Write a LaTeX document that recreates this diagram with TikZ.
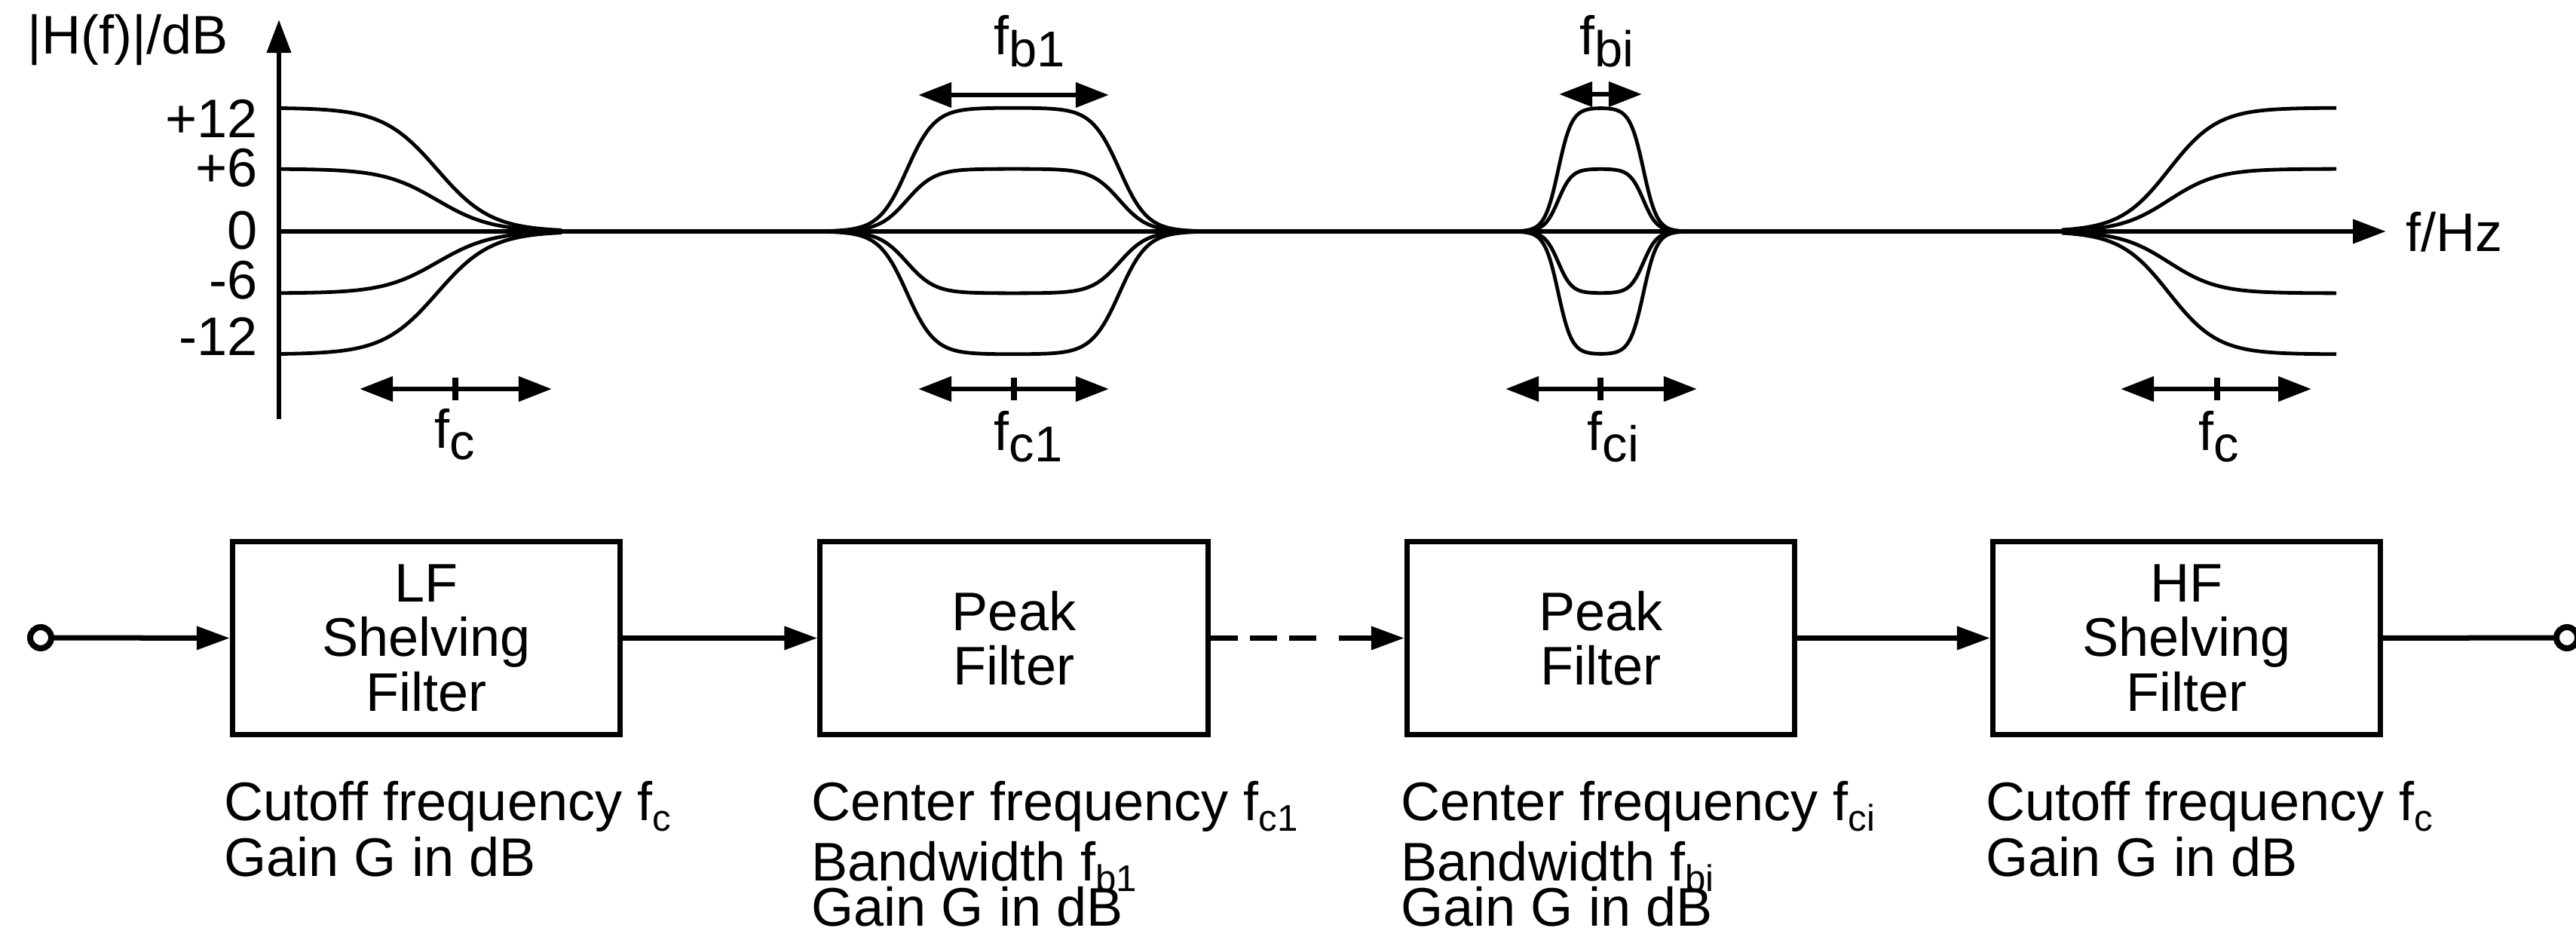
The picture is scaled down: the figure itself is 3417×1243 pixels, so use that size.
\documentclass[tikz,border=0pt]{standalone}
\usepackage{fontspec}
\setmainfont{Liberation Sans}
\usetikzlibrary{arrows.meta}
\newcommand{\tsub}[1]{\raisebox{-4.5pt}{\fontsize{19}{19}\selectfont #1}}
\newcommand{\bsub}[1]{\raisebox{-4pt}{\fontsize{14}{14}\selectfont #1}}
\begin{document}
\begin{tikzpicture}[x=0.01cm, y=-0.01cm,
  lbl/.style={inner sep=0pt, font=\fontsize{20.5}{21}\selectfont},
  curve/.style={line width=0.048cm, line join=round},
  axis/.style={line width=0.068cm, -{Triangle[length=0.44cm,width=0.31cm]}},
  dim/.style={line width=0.068cm, {Triangle[length=0.44cm,width=0.32cm]}-{Triangle[length=0.44cm,width=0.32cm]}},
  tickm/.style={line width=0.075cm},
  box/.style={draw, line width=0.07cm, minimum width=5.14cm, minimum height=2.55cm, inner sep=0pt, align=center, font=\fontsize{20.5}{20.5}\selectfont},
  conn/.style={line width=0.07cm},
  arr/.style={conn, -{Triangle[length=0.44cm,width=0.3cm]}},
  term/.style={circle, draw, line width=0.08cm, minimum size=0.28cm, inner sep=0pt, fill=white},
  declare function={st(\z)=tanh(max(-4,min(4,\z)));}
]
\useasboundingbox (0,0) rectangle (3417,1243);

% axes
\coordinate (o) at (370,307);
\coordinate (ytop) at (370,26);
\coordinate (ybot) at (370,556);
\coordinate (xend) at (3165,307);
\draw[axis] (ybot) -- (ytop);
\draw[axis] (o) -- (xend);

% curves
\foreach \g in {164,83,-82,-163}{
  \draw[curve] plot[domain=370:745, samples=120] (\x, {307 - \g*(1 - st((\x-580)/72))/2});
  \draw[curve] plot[domain=2735:3099, samples=120] (\x, {307 - \g*(1 + st((\x-2877)/65))/2});
  \draw[curve] plot[domain=1085:1605, samples=160] (\x, {307 - \g*(st((\x-1203)/37) - st((\x-1485)/37))/2});
  \draw[curve] plot[domain=1990:2260, samples=140] (\x, {307 - \g*(st((\x-2067)/18) - st((\x-2180)/18))/2});
}

% axis labels
\node[lbl, anchor=base west] (ylab) at (36,72) {|H(f)|/dB};
\node[lbl, anchor=base west] (xlab) at (3191,334) {f/Hz};
\node[lbl, anchor=base east] (t12) at (342,183) {+12};
\node[lbl, anchor=base east] (t6) at (342,248) {+6};
\node[lbl, anchor=base east] (t0) at (342,331) {0};
\node[lbl, anchor=base east] (tm6) at (342,397) {-6};
\node[lbl, anchor=base east] (tm12) at (342,472) {-12};

% dimension arrows
\coordinate (d1l) at (477,516); \coordinate (d1r) at (732,516);
\draw[dim] (d1l) -- (d1r); \draw[tickm] (604,501) -- (604,531);
\coordinate (d2l) at (1218,516); \coordinate (d2r) at (1471,516);
\draw[dim] (d2l) -- (d2r); \draw[tickm] (1345,501) -- (1345,531);
\coordinate (d3l) at (1997,516); \coordinate (d3r) at (2251,516);
\draw[dim] (d3l) -- (d3r); \draw[tickm] (2123,501) -- (2123,531);
\coordinate (d4l) at (2813,516); \coordinate (d4r) at (3066,516);
\draw[dim] (d4l) -- (d4r); \draw[tickm] (2941,501) -- (2941,531);
\coordinate (b1l) at (1218,126); \coordinate (b1r) at (1471,126);
\draw[dim] (b1l) -- (b1r);
\coordinate (bil) at (2068,125); \coordinate (bir) at (2178,125);
\draw[dim] (bil) -- (bir);

\node[lbl, anchor=base west] (lfc) at (576,594) {f\tsub{c}};
\node[lbl, anchor=base west] (lfc1) at (1318,597) {f\tsub{c1}};
\node[lbl, anchor=base west] (lfci) at (2105,597) {f\tsub{ci}};
\node[lbl, anchor=base west] (lfch) at (2916,597) {f\tsub{c}};
\node[lbl, anchor=base west] (lfb1) at (1318,73) {f\tsub{b1}};
\node[lbl, anchor=base west] (lfbi) at (2095,73) {f\tsub{bi}};

% block diagram
\node[box] (bk1) at (565.5,846.5) {LF\\Shelving\\Filter};
\node[box] (bk2) at (1345,846.5) {Peak\\Filter};
\node[box] (bk3) at (2123.5,846.5) {Peak\\Filter};
\node[box] (bk4) at (2900.5,846.5) {HF\\Shelving\\Filter};
\node[term] (in) at (54,846) {};
\node[term] (out) at (3405,846) {};
\draw[arr] (in.east) -- (bk1.west);
\draw[arr] (bk1.east) -- (bk2.west);
\draw[arr, dash pattern=on 0.36cm off 0.16cm on 0.36cm off 0.16cm on 0.36cm off 0.3cm on 3cm] (bk2.east) -- (bk3.west);
\draw[arr] (bk3.east) -- (bk4.west);
\draw[conn] (bk4.east) -- (out.west);

% parameter texts
\node[lbl, anchor=base west] (p1a) at (297,1088) {Cutoff frequency f\bsub{c}};
\node[lbl, anchor=base west] (p1b) at (297,1162) {Gain G in dB};
\node[lbl, anchor=base west] (p2a) at (1076,1088) {Center frequency f\bsub{c1}};
\node[lbl, anchor=base west] (p2b) at (1076,1168) {Bandwidth f\bsub{b1}};
\node[lbl, anchor=base west] (p2c) at (1076,1228) {Gain G in dB};
\node[lbl, anchor=base west] (p3a) at (1858,1088) {Center frequency f\bsub{ci}};
\node[lbl, anchor=base west] (p3b) at (1858,1168) {Bandwidth f\bsub{bi}};
\node[lbl, anchor=base west] (p3c) at (1858,1228) {Gain G in dB};
\node[lbl, anchor=base west] (p4a) at (2634,1088) {Cutoff frequency f\bsub{c}};
\node[lbl, anchor=base west] (p4b) at (2634,1162) {Gain G in dB};
\end{tikzpicture}
\end{document}
